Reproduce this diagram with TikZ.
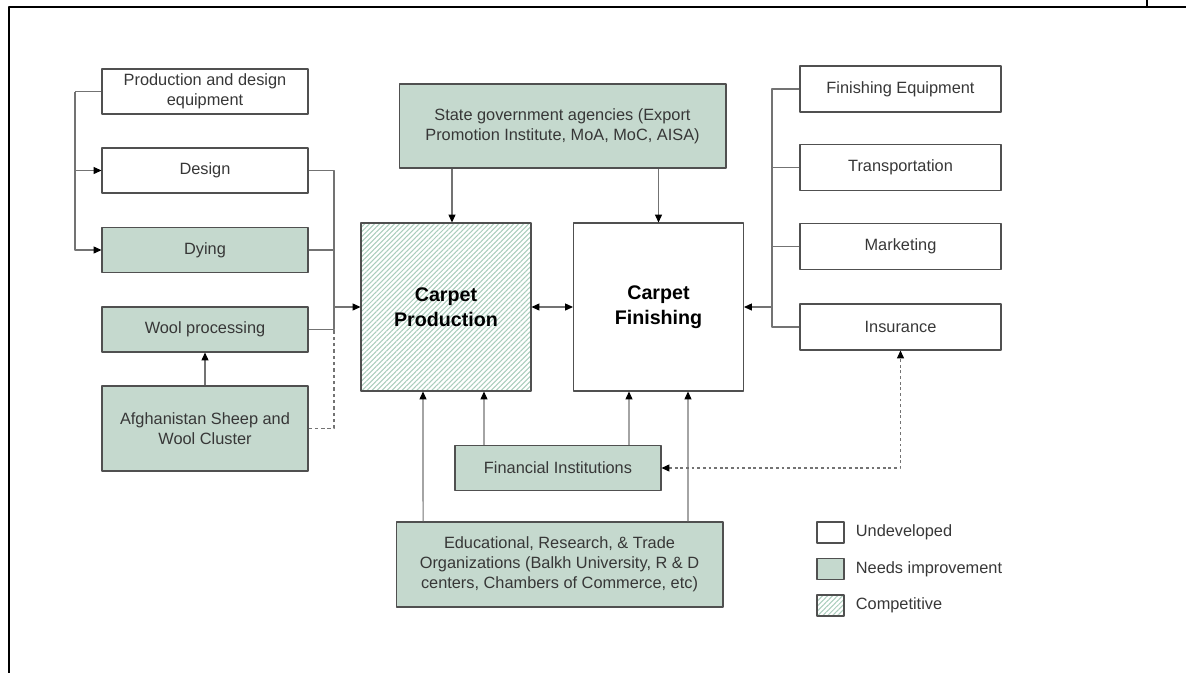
\documentclass[tikz,border=0pt]{standalone}
\usepackage{fontspec}
\setmainfont{Liberation Sans}
\usetikzlibrary{arrows.meta,patterns.meta}
\definecolor{needs}{RGB}{197,217,206}
\definecolor{hatch}{RGB}{170,205,188}
\definecolor{boxline}{RGB}{80,80,80}
\definecolor{conline}{RGB}{115,115,115}
\definecolor{txt}{RGB}{55,55,55}
\begin{document}
\begin{tikzpicture}[x=0.02cm,y=-0.02cm,line join=round,
	font=\fontsize{9.3}{11.3}\selectfont,
	>={Triangle[length=4.5pt,width=4pt,color=black]},
	box/.style={draw=boxline,line width=0.6pt,text=txt,align=center,
		inner sep=0pt,minimum width=4.12cm,minimum height=0.9cm},
	weak/.style={box,fill=needs},
	core/.style={box,minimum width=3.4cm,minimum height=3.36cm,
		font=\fontsize{11.2}{14}\selectfont\bfseries,text=black},
	competitive/.style={pattern={Lines[angle=45,distance=2pt,line width=0.6pt]},
		pattern color=hatch},
	conn/.style={draw=conline,line width=0.6pt},
	key/.style={box,minimum width=0.54cm,minimum height=0.42cm},
	keytext/.style={anchor=west,text=txt,inner sep=0pt}]
	\useasboundingbox (0,0) rectangle (1191,673);
	% frame
	\draw[line width=1.1pt] (9,673) -- (9,7) -- (1186,7);
	\draw[line width=1.1pt] (1147,0) -- (1147,7);
	% left column
	\node[box] (equip) at (205,91.5) {Production and design\\equipment};
	\node[box] (design) at (205,170.5) {Design};
	\node[weak] (dying) at (205,250) {Dying};
	\node[weak] (wool) at (205,329.5) {Wool processing};
	\node[weak,minimum height=1.7cm] (cluster) at (205,428.5)
		{Afghanistan Sheep and\\Wool Cluster};
	% centre
	\node[weak,minimum width=6.54cm,minimum height=1.68cm] (state) at (562.5,126)
		{State government agencies (Export\\Promotion Institute, MoA, MoC, AISA)};
	\node[core,competitive] (prod) at (446,307) {Carpet\\Production};
	\node[core] (finish) at (658.5,307) {Carpet\\Finishing};
	\node[weak] (fin) at (558,468) {Financial Institutions};
	\node[weak,minimum width=6.54cm,minimum height=1.7cm] (edu) at (559.5,564.5)
		{Educational, Research, \& Trade\\Organizations (Balkh University, R \& D\\centers, Chambers of Commerce, etc)};
	% right column
	\node[box,minimum width=4.02cm,minimum height=0.92cm] (fequip) at (900.5,89) {Finishing Equipment};
	\node[box,minimum width=4.02cm,minimum height=0.92cm] (trans) at (900.5,167.5) {Transportation};
	\node[box,minimum width=4.02cm,minimum height=0.92cm] (market) at (900.5,246.5) {Marketing};
	\node[box,minimum width=4.02cm,minimum height=0.92cm] (insur) at (900.5,327) {Insurance};
	% junctions
	\coordinate (lb) at (75,91.5);
	\coordinate (rc) at (334,307);
	\coordinate (rb) at (772,307);
	\coordinate (pin) at ([xshift=0.12cm]prod.north);
	% left connectors
	\draw[conn] (equip.west) -- (lb);
	\draw[conn,->] (lb) |- (design.west);
	\draw[conn,->] (lb) |- (dying.west);
	\draw[conn] (design.east) -| (rc);
	\draw[conn] (dying.east) -| (rc);
	\draw[conn] (wool.east) -| (rc);
	\draw[conn,dash pattern=on 2pt off 1.6pt] (cluster.east) -| (wool.east -| rc);
	\draw[conn,->] (rc) -- (prod.west);
	\draw[conn,->] (cluster.north) -- (wool.south);
	% centre connectors
	\draw[conn,->] (state.south -| pin) -- (pin);
	\draw[conn,->] (state.south -| finish.north) -- (finish.north);
	\draw[conn,<->] (prod.east) -- (finish.west);
	\draw[conn,->] ([xshift=-1.48cm]fin.north) -- ([xshift=0.76cm]prod.south);
	\draw[conn,->] ([xshift=1.42cm]fin.north) -- ([xshift=-0.59cm]finish.south);
	\draw[conn,->] ([xshift=-2.73cm]edu.north) -- ([xshift=-0.46cm]prod.south);
	\draw[conn,->] ([xshift=2.57cm]edu.north) -- ([xshift=0.59cm]finish.south);
	% right connectors
	\draw[conn] (fequip.west) -| (rb);
	\draw[conn] (trans.west) -| (rb);
	\draw[conn] (market.west) -| (rb);
	\draw[conn] (insur.west) -| (rb);
	\draw[conn,->] (rb) -- (finish.east);
	\draw[conn,<->,dash pattern=on 1.6pt off 1.6pt] (fin.east) -| (insur.south);
	% legend
	\node[key] (undev) at (830.5,532.5) {};
	\node[key,fill=needs] (improve) at (830.5,569) {};
	\node[key,competitive] (compet) at (830.5,605.5) {};
	\node[keytext] (undevtxt) at ([xshift=0.22cm]undev.east) {Undeveloped};
	\node[keytext] (improvetxt) at ([xshift=0.22cm]improve.east) {Needs improvement};
	\node[keytext] (competxt) at ([xshift=0.22cm]compet.east) {Competitive};
\end{tikzpicture}
\end{document}
